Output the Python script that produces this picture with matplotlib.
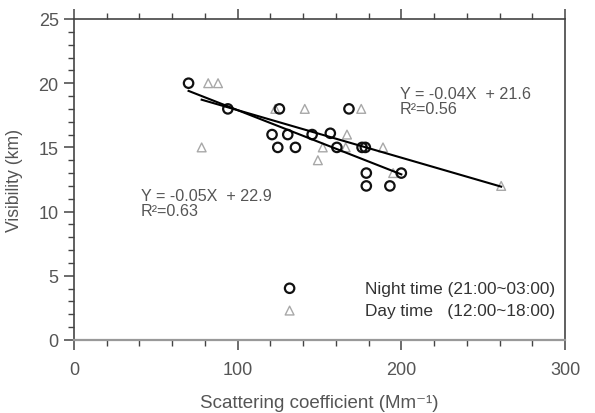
import matplotlib
matplotlib.use("Agg")
import matplotlib.pyplot as plt
from matplotlib.ticker import MultipleLocator
import numpy as np

plt.rcParams['font.family'] = ['Liberation Sans', 'DejaVu Sans']

# night time (21:00~03:00), scattering coefficient vs visibility
night_x = [70, 94, 125.5, 168, 121, 130.6, 145.5, 156.6, 124.5, 135.3,
           160.6, 176, 178, 178.6, 178.6, 193, 200]
night_y = [20, 18, 18, 18, 16, 16, 16, 16.1, 15, 15,
           15, 15, 15, 13, 12, 12, 13]

# day time (12:00~18:00)
day_x = [78, 82, 88, 123, 141, 175.5, 166.8, 152, 166, 188.8, 149, 195, 261]
day_y = [15, 20, 20, 18, 18, 18, 16, 15, 15, 15, 14, 13, 12]

# fitted lines (slope, intercept)
night_fit = (-0.05, 22.9)
day_fit = (-0.037, 21.6)

night_eq = "Y = -0.05X  + 22.9\nR\u00b2=0.63"
day_eq = "Y = -0.04X  + 21.6\nR\u00b2=0.56"

TXT = '#555555'

fig = plt.figure(figsize=(5.95, 4.14), dpi=100)
ax = fig.add_axes([74 / 595, 73 / 414, 491 / 595, 321 / 414])

ax.scatter(day_x, day_y, marker='^', s=40, facecolors='none',
           edgecolors='#a8a8a8', linewidths=1.0, zorder=3,
           label='Day time   (12:00~18:00)')
ax.scatter(night_x, night_y, marker='o', s=46, facecolors='none',
           edgecolors='#111111', linewidths=1.6, zorder=4,
           label='Night time (21:00~03:00)')

for xs, (m, b) in ((night_x, night_fit), (day_x, day_fit)):
    xx = np.array([min(xs), max(xs)])
    ax.plot(xx, m * xx + b, color='black', lw=1.5, zorder=5)

ax.text(199, 18.64, day_eq, color=TXT, fontsize=11.6, linespacing=1.0,
        va='center', ha='left')
ax.text(40.8, 10.67, night_eq, color=TXT, fontsize=11.6, linespacing=1.0,
        va='center', ha='left')

ax.set_xlim(0, 300)
ax.set_ylim(0, 25)
ax.xaxis.set_major_locator(MultipleLocator(100))
ax.xaxis.set_minor_locator(MultipleLocator(20))
ax.yaxis.set_major_locator(MultipleLocator(5))
ax.yaxis.set_minor_locator(MultipleLocator(1))
ax.tick_params(which='both', direction='out', colors='#444444',
               labelcolor=TXT, labelsize=13, top=True)
ax.tick_params(which='major', length=7, width=1.1)
ax.tick_params(which='minor', length=4.5, width=1.0)
ax.tick_params(axis='x', which='major', pad=8)
ax.tick_params(axis='y', which='major', pad=4)
for s in ax.spines.values():
    s.set_color('#444444')
    s.set_linewidth(1.2)
ax.spines['bottom'].set_color('#999999')
ax.spines['bottom'].set_linewidth(1.6)

ax.set_xlabel("Scattering coefficient (Mm\u207b\u00b9)", color=TXT,
              fontsize=13.5, labelpad=12)
ax.set_ylabel("Visibility (km)", color=TXT, fontsize=12.7, labelpad=11)

handles, labels = ax.get_legend_handles_labels()
leg = ax.legend(handles[::-1], labels[::-1], loc='lower left',
                bbox_to_anchor=(0.39, 0.02), frameon=False, fontsize=12.4,
                handlelength=1.0, handletextpad=3.9, labelspacing=0.42,
                labelcolor='#333333')

fig.savefig('out.png', dpi=100)
